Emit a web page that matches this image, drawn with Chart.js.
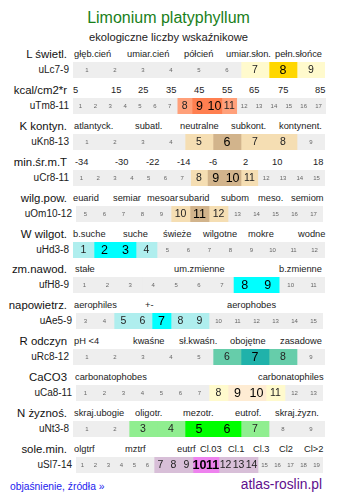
<!DOCTYPE html>
<html>
<head>
<meta charset="utf-8">
<script src="https://cdn.jsdelivr.net/npm/chart.js@4.4.1/dist/chart.umd.min.js"></script>
<style>
  body { margin: 0; background: #fff; font-family: "Liberation Sans", Arial, sans-serif; }
  #page { position: relative; width: 337px; height: 502px; overflow: hidden; }
  .t { position: absolute; white-space: nowrap; transform: translateY(-50%); line-height: 1; }
  .r { text-align: right; }
  canvas { position: absolute; }
</style>
</head>
<body>
<div id="page"></div>
<script>
// rows of the indicator table
const rowNames = ['L świetl.', 'kcal/cm2*r', 'K kontyn.', 'min.śr.m.T', 'wilg.pow.', 'W wilgot.',
  'zm.nawod.', 'napowietrz.', 'R odczyn', 'CaCO3', 'N żyznoś.', 'sole.min.'];
const rowCodes = ['uLc7-9', 'uTm8-11', 'uKn8-13', 'uCr8-11', 'uOm10-12', 'uHd3-8',
  'ufH8-9', 'uAe5-9', 'uRc8-12', 'uCa8-11', 'uNt3-8', 'uSl7-14'];

// scale of each row (first and last cell number)
const firstCell = [1, 1, 1, 1, 5, 1, 1, 3, 1, 1, 1, 1];
const lastCell  = [9, 17, 9, 15, 17, 12, 11, 15, 9, 13, 9, 19];

// indicator values: whole range and the optimum inside it
const rangeFrom = [7, 8, 5, 8, 10, 1, 8, 5, 6, 8, 3, 7];
const rangeTo   = [9, 11, 8, 11, 12, 4, 9, 9, 8, 11, 7, 14];
const peakFrom  = [8, 9, 6, 9, 11, 2, 8, 7, 7, 9, 5, 10];
const peakTo    = [8, 10, 6, 10, 11, 3, 9, 7, 7, 10, 6, 11];

// header tick labels over each row
const headLabels = [
  ['głęb.cień', 'umiar.cień', 'półcień', 'umiar.słon.', 'pełn.słońce'],
  ['5', '15', '25', '35', '45', '55', '65', '75', '85'],
  ['atlantyck.', 'subatl.', 'neutralne', 'subkont.', 'kontynent.'],
  ['-34', '-30', '-22', '-14', '-6', '2', '10', '18'],
  ['euarid', 'semiar', 'mesoar', 'subarid', 'subom', 'meso.', 'semiom'],
  ['b.suche', 'suche', 'świeże', 'wilgotne', 'mokre', 'wodne'],
  ['stałe', 'um.zmienne', 'b.zmienne'],
  ['aerophiles', '+-', 'aerophobes'],
  ['pH <4', 'kwaśne', 'sł.kwaśn.', 'obojętne', 'zasadowe'],
  ['carbonatophobes', 'carbonatophiles'],
  ['skraj.ubogie', 'oligotr.', 'mezotr.', 'eutrof.', 'skraj.żyzn.'],
  ['olgtrf', 'mztrf', 'eutrf', 'Cl.03', 'Cl.1', 'Cl.3', 'Cl2', 'Cl>2']
];

// colours: [range, optimum]
const rowColors = [
  ['#fffacd', '#ffd700'], ['#ffa07a', '#ff7f50'], ['#f5deb3', '#d2b48c'], ['#f5deb3', '#d2b48c'],
  ['#f5deb3', '#d2b48c'], ['#afeeee', '#00ffff'], ['#afeeee', '#00ffff'], ['#afeeee', '#00ffff'],
  ['#66cdaa', '#20b2aa'], ['#fffacd', '#feecd3'], ['#90ee90', '#00ff00'], ['#d8bfd8', '#ee82ee']
];
const GREY = '#eeeeee';

// ---- layout (pixels) ----
const headX = [
  [74, 127, 184, 226, 275],
  [73, 111, 138, 166, 194, 222, 249, 278, 315],
  [74, 135, 180, 231, 279],
  [75, 115, 146, 177, 209, 243, 272, 313],
  [73, 113, 147, 179, 221, 258, 291],
  [73, 123, 163, 203, 248, 298],
  [75, 174, 279],
  [74, 145, 227],
  [74, 133, 179, 230, 280],
  [75, 258],
  [74, 135, 183, 235, 275],
  [74, 125, 177, 200, 228, 253, 279, 304]
];
const wide = [false, false, false, false, true, false, false, true, false, true, false, true];
const rowTop = 70, rowStep = 35.9, barH = 16;

const page = document.getElementById('page');

function addText(txt, x, y, css, right) {
  const d = document.createElement('div');
  d.className = 't' + (right ? ' r' : '');
  d.textContent = txt;
  d.style.top = y + 'px';
  if (right) d.style.right = (337 - x) + 'px'; else d.style.left = x + 'px';
  Object.assign(d.style, css);
  page.appendChild(d);
}

addText('Limonium platyphyllum', 0, 18, { width: '337px', textAlign: 'center', fontSize: '16px', color: '#1a801a' });
addText('ekologiczne liczby wskaźnikowe', 0, 38, { width: '337px', textAlign: 'center', fontSize: '11.2px', color: '#222' });

// draws the number in every cell
const cellText = {
  id: 'cellText',
  afterDatasetsDraw(chart) {
    const ctx = chart.ctx;
    const r = chart.options.plugins.cellText.row;
    ctx.save();
    ctx.textAlign = 'center';
    ctx.textBaseline = 'middle';
    chart.data.datasets.forEach((ds, i) => {
      const el = chart.getDatasetMeta(i).data[0];
      const v = Number(ds.label);
      const cx = (el.x + el.base) / 2;
      if (v >= peakFrom[r] && v <= peakTo[r]) {
        ctx.font = (r === 11 ? 'bold ' : '') + '12.5px "Liberation Sans", Arial, sans-serif';
        ctx.fillStyle = '#000';
      } else if (v >= rangeFrom[r] && v <= rangeTo[r]) {
        ctx.font = '10.5px "Liberation Sans", Arial, sans-serif';
        ctx.fillStyle = '#222';
      } else {
        ctx.font = '6px "Liberation Sans", Arial, sans-serif';
        ctx.fillStyle = '#666';
      }
      ctx.fillText(ds.label, cx, el.y + 0.5);
    });
    ctx.restore();
  }
};

rowNames.forEach((name, r) => {
  const cy = rowTop + rowStep * r;
  const x0 = wide[r] ? 76 : 73;
  const x1 = wide[r] ? 323 : (r === 1 ? 326 : 325);

  addText(name, 67, cy - 15, { fontSize: '11.4px', color: '#111' }, true);
  addText(rowCodes[r], wide[r] ? 72 : 69, cy, { fontSize: '10px', color: '#222' }, true);
  headLabels[r].forEach((h, j) => {
    addText(h, headX[r][j], cy - 15, { fontSize: '9.3px', color: '#222' });
  });

  const cv = document.createElement('canvas');
  cv.width = x1 - x0;
  cv.height = barH;
  cv.style.left = x0 + 'px';
  cv.style.top = (cy - barH / 2) + 'px';
  page.appendChild(cv);

  const datasets = [];
  for (let v = firstCell[r]; v <= lastCell[r]; v++) {
    let col = GREY;
    if (v >= rangeFrom[r] && v <= rangeTo[r]) col = rowColors[r][0];
    if (v >= peakFrom[r] && v <= peakTo[r]) col = rowColors[r][1];
    datasets.push({ label: String(v), data: [1], backgroundColor: col, borderWidth: 0,
      barPercentage: 1, categoryPercentage: 1 });
  }

  new Chart(cv, {
    type: 'bar',
    data: { labels: [rowCodes[r]], datasets: datasets },
    options: {
      indexAxis: 'y',
      responsive: false,
      animation: false,
      devicePixelRatio: 1,
      layout: { padding: 0 },
      scales: {
        x: { stacked: true, min: 0, max: lastCell[r] - firstCell[r] + 1, display: false },
        y: { stacked: true, display: false }
      },
      plugins: { legend: { display: false }, tooltip: { enabled: false }, cellText: { row: r } }
    },
    plugins: [cellText]
  });
});

addText('objaśnienie, źródła »', 10, 487, { fontSize: '10.3px', color: '#2222ee' });
addText('atlas-roslin.pl', 322, 485, { fontSize: '13.8px', color: '#5e0e8c' }, true);
</script>
</body>
</html>
